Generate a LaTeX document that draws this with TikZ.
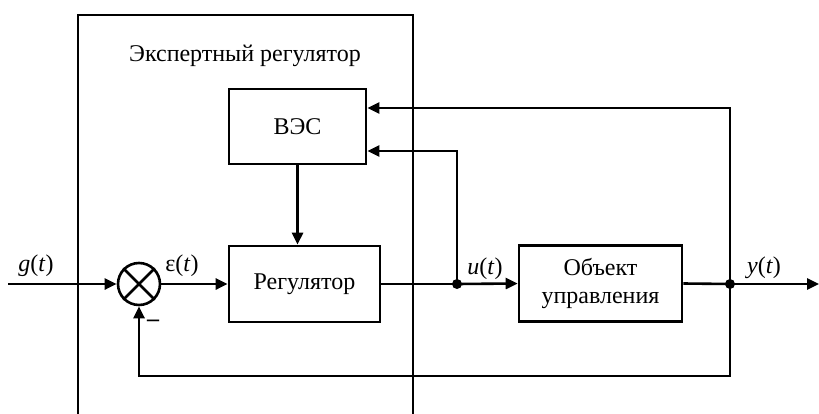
\documentclass[tikz,border=0pt]{standalone}
\usepackage{fontspec}
\setmainfont{Liberation Serif}
\usetikzlibrary{arrows.meta,calc,positioning}

\begin{document}
\begin{tikzpicture}[x=1pt,y=-1pt,line width=2.6pt,
    font=\fontsize{24}{28}\selectfont,
    blok/.style={draw,inner sep=0pt},
    strelka/.style={-{Triangle[length=12pt,width=11pt]}},
    tochka/.style={circle,fill,inner sep=0pt,minimum size=10pt}]
    \useasboundingbox (0,0) rectangle (819,414);

    % expert regulator frame
    \draw (78,414) -- (78,15) -- (413,15) -- (413,414);
    \node (Tit) at (245,62) [anchor=base] {Экспертный регулятор};

    \node (Ves) at (297.5,126.5) [blok,minimum width=137pt,minimum height=75pt] {ВЭС};
    \node (Reg) at (304.5,284) [blok,minimum width=151pt,minimum height=76pt] {Регулятор};
    \node (Obj) at (600.5,283.5) [blok,minimum width=163pt,minimum height=76pt,align=center] {Объект\\управления};
    \node (Sum) at (139,284) [draw,circle,minimum size=42pt,inner sep=0pt] {};
    \draw (Sum.45) -- (Sum.225) (Sum.135) -- (Sum.315);

    \coordinate (In) at (8,284);
    \coordinate (Out) at (819,284);
    \node (uDot) at (457,284) [tochka] {};
    \node (yDot) at (730,284) [tochka] {};
    \coordinate (yUp) at (730,108);
    \coordinate (uUp) at (457,151);
    \coordinate (yDown) at (730,376);
    \coordinate (sDown) at (139,376);

    \draw[strelka] (In) -- (Sum.west);
    \draw[strelka] (Sum.east) -- (Reg.west);
    \draw (Reg.east) -- (uDot.center);
    \draw[strelka] (uDot.center) -- (Obj.west);
    \draw (Obj.east) -- (yDot.center);
    \draw[strelka] (yDot.center) -- (Out);
    \draw[strelka] (yDot.center) -- (yDown) -- (sDown) -- (Sum.south);
    \draw[strelka] (yDot.center) -- (yUp) -- (yUp -| Ves.east);
    \draw[strelka] (uDot.center) -- (uUp) -- (uUp -| Ves.east);
    \draw[strelka] (Ves.south) -- (Ves.south |- Reg.north);

    % signals
    \node (gLbl) at (36,271) [anchor=base] {\textit{g}(\textit{t})};
    \node (eLbl) at (182,271) [anchor=base] {ε(\textit{t})};
    \node (uLbl) at (485,274) [anchor=base] {\textit{u}(\textit{t})};
    \node (yLbl) at (764,273) [anchor=base] {\textit{y}(\textit{t})};
    \node (Minus) at (153,323) {\bfseries –};
\end{tikzpicture}
\end{document}
